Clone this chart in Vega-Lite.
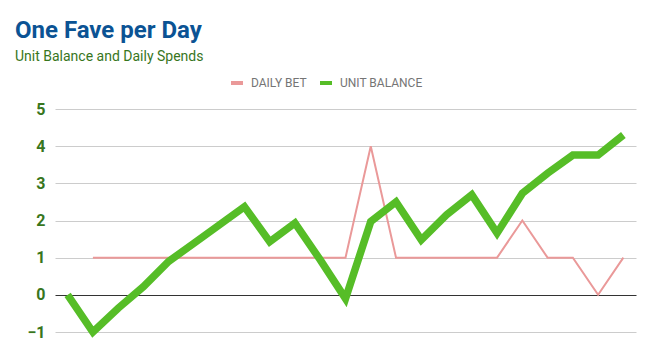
{
  "$schema": "https://vega.github.io/schema/vega-lite/v6.json",
  "autosize": "none",
  "width": 581,
  "height": 223,
  "padding": {"top": 109, "left": 55, "right": 15, "bottom": 23},
  "background": "white",
  "title": {
    "text": "One Fave per Day",
    "subtitle": "Unit Balance and Daily Spends",
    "anchor": "start",
    "frame": "group",
    "dx": -40,
    "offset": 11,
    "font": "Roboto",
    "fontSize": 24,
    "fontWeight": "bold",
    "color": "#0b5394",
    "subtitleFont": "Roboto",
    "subtitleFontSize": 14,
    "subtitleColor": "#38761d",
    "subtitlePadding": 7
  },
  "config": {
    "view": {"stroke": null},
    "legend": {
      "orient": "none",
      "legendX": 174,
      "legendY": -34,
      "direction": "horizontal",
      "labelFont": "Roboto",
      "labelFontSize": 12,
      "labelColor": "#757575",
      "symbolType": "stroke",
      "symbolSize": 144,
      "symbolStrokeWidth": 4,
      "columnPadding": 5,
      "labelOffset": 6,
      "title": null
    }
  },
  "data": {
    "values": [
      {"day": 2, "series": "DAILY BET", "value": 1},
      {"day": 3, "series": "DAILY BET", "value": 1},
      {"day": 4, "series": "DAILY BET", "value": 1},
      {"day": 5, "series": "DAILY BET", "value": 1},
      {"day": 6, "series": "DAILY BET", "value": 1},
      {"day": 7, "series": "DAILY BET", "value": 1},
      {"day": 8, "series": "DAILY BET", "value": 1},
      {"day": 9, "series": "DAILY BET", "value": 1},
      {"day": 10, "series": "DAILY BET", "value": 1},
      {"day": 11, "series": "DAILY BET", "value": 1},
      {"day": 12, "series": "DAILY BET", "value": 1},
      {"day": 13, "series": "DAILY BET", "value": 4},
      {"day": 14, "series": "DAILY BET", "value": 1},
      {"day": 15, "series": "DAILY BET", "value": 1},
      {"day": 16, "series": "DAILY BET", "value": 1},
      {"day": 17, "series": "DAILY BET", "value": 1},
      {"day": 18, "series": "DAILY BET", "value": 1},
      {"day": 19, "series": "DAILY BET", "value": 2},
      {"day": 20, "series": "DAILY BET", "value": 1},
      {"day": 21, "series": "DAILY BET", "value": 1},
      {"day": 22, "series": "DAILY BET", "value": 0},
      {"day": 23, "series": "DAILY BET", "value": 1},
      {"day": 1, "series": "UNIT BALANCE", "value": 0},
      {"day": 2, "series": "UNIT BALANCE", "value": -1},
      {"day": 3, "series": "UNIT BALANCE", "value": -0.36},
      {"day": 4, "series": "UNIT BALANCE", "value": 0.22},
      {"day": 5, "series": "UNIT BALANCE", "value": 0.9},
      {"day": 6, "series": "UNIT BALANCE", "value": 1.39},
      {"day": 7, "series": "UNIT BALANCE", "value": 1.88},
      {"day": 8, "series": "UNIT BALANCE", "value": 2.37},
      {"day": 9, "series": "UNIT BALANCE", "value": 1.43},
      {"day": 10, "series": "UNIT BALANCE", "value": 1.93},
      {"day": 11, "series": "UNIT BALANCE", "value": 0.94},
      {"day": 12, "series": "UNIT BALANCE", "value": -0.1},
      {"day": 13, "series": "UNIT BALANCE", "value": 1.97},
      {"day": 14, "series": "UNIT BALANCE", "value": 2.5},
      {"day": 15, "series": "UNIT BALANCE", "value": 1.48},
      {"day": 16, "series": "UNIT BALANCE", "value": 2.15},
      {"day": 17, "series": "UNIT BALANCE", "value": 2.69},
      {"day": 18, "series": "UNIT BALANCE", "value": 1.66},
      {"day": 19, "series": "UNIT BALANCE", "value": 2.73},
      {"day": 20, "series": "UNIT BALANCE", "value": 3.27},
      {"day": 21, "series": "UNIT BALANCE", "value": 3.76},
      {"day": 22, "series": "UNIT BALANCE", "value": 3.76},
      {"day": 23, "series": "UNIT BALANCE", "value": 4.3}
    ]
  },
  "encoding": {
    "x": {
      "field": "day",
      "type": "quantitative",
      "scale": {"domain": [0.5, 23.5], "nice": false, "zero": false},
      "axis": null
    },
    "y": {
      "field": "value",
      "type": "quantitative",
      "scale": {"domain": [-1, 5], "nice": false, "zero": false},
      "axis": {
        "title": null,
        "values": [-1, 0, 1, 2, 3, 4, 5],
        "domain": false,
        "ticks": false,
        "labelFont": "Roboto",
        "labelFontSize": 16,
        "labelFontWeight": "bold",
        "labelColor": "#38761d",
        "labelPadding": 10,
        "gridColor": {"condition": {"test": "datum.value === 0", "value": "#333333"}, "value": "#cccccc"},
        "gridWidth": 1
      }
    },
    "color": {
      "field": "series",
      "type": "nominal",
      "scale": {"domain": ["DAILY BET", "UNIT BALANCE"], "range": ["#ea9999", "#56bd27"]}
    }
  },
  "layer": [
    {
      "transform": [{"filter": "datum.series === 'DAILY BET'"}],
      "mark": {"type": "line", "strokeWidth": 2}
    },
    {
      "transform": [{"filter": "datum.series === 'UNIT BALANCE'"}],
      "mark": {"type": "line", "strokeWidth": 7.5, "strokeJoin": "miter"}
    }
  ]
}
